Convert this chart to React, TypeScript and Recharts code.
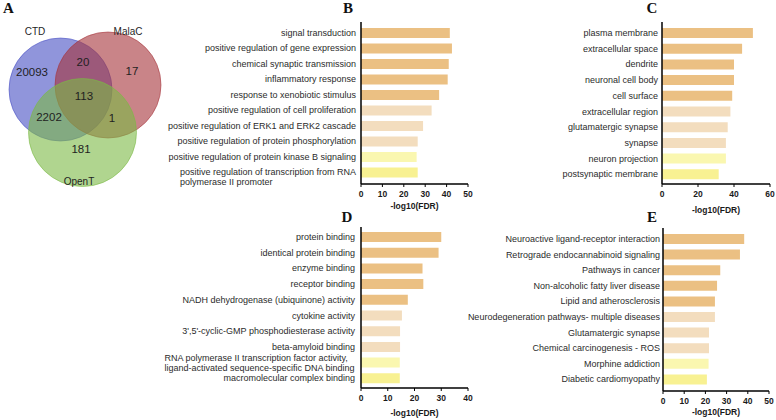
import { BarChart, Bar, XAxis, YAxis, Cell, ScatterChart, Scatter } from "recharts";

const FONT = '"Liberation Sans", Arial, sans-serif';

// Venn counts (CTD / MalaC / OpenT)
const vennSets = ["CTD", "MalaC", "OpenT"];
const vennCounts = ["20093", "20", "17", "113", "2202", "1", "181"];

// Panel B - biological process
const bpTerms = [
  "signal transduction",
  "positive regulation of gene expression",
  "chemical synaptic transmission",
  "inflammatory response",
  "response to xenobiotic stimulus",
  "positive regulation of cell proliferation",
  "positive regulation of ERK1 and ERK2 cascade",
  "positive regulation of protein phosphorylation",
  "positive regulation of protein kinase B signaling",
  "positive regulation of transcription from RNA\npolymerase II promoter",
];
const bpValues = [41.5, 42.5, 41, 40.5, 36.5, 33, 29, 26.5, 26, 26.5];
const bpTicks = [0, 10, 20, 30, 40, 50];

// Panel C - cellular component
const ccTerms = [
  "plasma membrane",
  "extracellular space",
  "dendrite",
  "neuronal cell body",
  "cell surface",
  "extracellular region",
  "glutamatergic synapse",
  "synapse",
  "neuron projection",
  "postsynaptic membrane",
];
const ccValues = [50.5, 44.5, 40, 40, 39, 38, 36.5, 35.5, 35.5, 31.5];
const ccTicks = [0, 20, 40, 60];

// Panel D - molecular function
const mfTerms = [
  "protein binding",
  "identical protein binding",
  "enzyme binding",
  "receptor binding",
  "NADH dehydrogenase (ubiquinone) activity",
  "cytokine activity",
  "3',5'-cyclic-GMP phosphodiesterase activity",
  "beta-amyloid binding",
  "RNA polymerase II transcription factor activity,\nligand-activated sequence-specific DNA binding",
  "macromolecular complex binding",
];
const mfValues = [30, 29, 23, 23.3, 17.5, 15.3, 14.6, 14.6, 14.5, 14.5];
const mfTicks = [0, 10, 20, 30, 40];

// Panel E - KEGG
const keggTerms = [
  "Neuroactive ligand-receptor interaction",
  "Retrograde endocannabinoid signaling",
  "Pathways in cancer",
  "Non-alcoholic fatty liver disease",
  "Lipid and atherosclerosis",
  "Neurodegeneration pathways- multiple diseases",
  "Glutamatergic synapse",
  "Chemical carcinogenesis - ROS",
  "Morphine addiction",
  "Diabetic cardiomyopathy",
];
const keggValues = [38.3, 36.3, 27, 25.5, 24.5, 24.5, 21.7, 21.7, 21.5, 20.7];
const keggTicks = [0, 10, 20, 30, 40, 50];

const barColors = [
  "#EBC083", "#EBC083", "#EBC083", "#EBC083", "#EBC083",
  "#F3DDBE", "#F3DDBE", "#F3DDBE",
  "#FAF7B0", "#F8F192",
];

// venn layout in chart units (1 unit = 1px)
const vennCircles = [
  { x: 60.5, y: 89.5, r: 51.5, fill: "rgb(70,78,195)" },
  { x: 108, y: 85, r: 53, fill: "rgb(165,50,57)" },
  { x: 82.5, y: 132.5, r: 54, fill: "rgb(123,185,68)" },
];
const vennSetSpots = [
  { x: 35, y: 31 },
  { x: 128, y: 31 },
  { x: 79, y: 181 },
];
const vennCountSpots = [
  { x: 32, y: 72 },
  { x: 83, y: 62 },
  { x: 132, y: 71 },
  { x: 84, y: 96 },
  { x: 49, y: 117 },
  { x: 112, y: 118 },
  { x: 81, y: 149 },
];

let measureCtx: CanvasRenderingContext2D | null = null;
function textWidth(s: string, font: string) {
  if (!measureCtx) measureCtx = document.createElement("canvas").getContext("2d");
  if (!measureCtx) return s.length * 4.5;
  measureCtx.font = font;
  return measureCtx.measureText(s).width;
}

function TermTick(props: any) {
  const { x, y, payload, multiAlign } = props;
  const lines = String(payload.value).split("\n");
  const common = { fontSize: 9, fontFamily: FONT, fill: "#2b2b2b" };
  if (lines.length === 1) {
    return (
      <text x={x} y={y} dy="0.35em" textAnchor="end" {...common}>
        {lines[0]}
      </text>
    );
  }
  const w = Math.max(...lines.map((l) => textWidth(l, `9px ${FONT}`)));
  const y0 = multiAlign === "center" ? y - ((lines.length - 1) * 10) / 2 : y;
  return (
    <text x={x - w} y={y0} textAnchor="start" {...common}>
      {lines.map((l, i) => (
        <tspan key={i} x={x - w} dy={i === 0 ? "0.35em" : 10}>
          {l}
        </tspan>
      ))}
    </text>
  );
}

function GoPanel(props: any) {
  const { terms, values, ticks, left, top, width, height, yWidth, right, gap, padTop, padBottom, titleOffset, multiAlign } = props;
  const data = terms.map((term: string, i: number) => ({ term, value: values[i] }));
  return (
    <div style={{ position: "absolute", left, top }}>
      <BarChart
        width={width}
        height={height}
        data={data}
        layout="vertical"
        margin={{ top: 22, right, left: 0, bottom: 0 }}
      >
        <XAxis
          type="number"
          domain={[0, ticks[ticks.length - 1]]}
          ticks={ticks}
          interval={0}
          height={34}
          tickSize={3}
          tickMargin={4}
          axisLine={{ stroke: "#000", strokeWidth: 1.5 }}
          tickLine={{ stroke: "#000", strokeWidth: 1 }}
          tick={{ fontSize: 8.5, fontWeight: 700, fontFamily: FONT, fill: "#1a1a1a" }}
          label={{
            value: "-log10(FDR)",
            position: "insideBottom",
            offset: titleOffset,
            style: { fontSize: 8.5, fontWeight: 700, fontFamily: FONT, fill: "#1a1a1a" },
          }}
        />
        <YAxis
          type="category"
          dataKey="term"
          width={yWidth}
          interval={0}
          tickSize={0}
          tickMargin={gap}
          padding={{ top: padTop, bottom: padBottom }}
          axisLine={{ stroke: "#000", strokeWidth: 1.5 }}
          tickLine={false}
          tick={<TermTick multiAlign={multiAlign} />}
        />
        <Bar dataKey="value" barSize={10} isAnimationActive={false}>
          {data.map((_: any, i: number) => (
            <Cell key={i} fill={barColors[i]} />
          ))}
        </Bar>
      </BarChart>
    </div>
  );
}

function VennPanel() {
  const circles = vennCircles;
  const sets = vennSets.map((name, i) => ({ ...vennSetSpots[i], text: name }));
  const counts = vennCounts.map((n, i) => ({ ...vennCountSpots[i], text: n }));
  const circleShape = (p: any) => (
    <circle
      cx={p.cx}
      cy={p.cy}
      r={p.payload.r}
      fill={p.payload.fill}
      fillOpacity={0.6}
      stroke={p.payload.fill}
      strokeOpacity={0.7}
      strokeWidth={0.8}
    />
  );
  const textShape = (size: number) => (p: any) => (
    <text x={p.cx} y={p.cy} dy="0.35em" textAnchor="middle" fontSize={size} fontFamily={FONT} fill="#1f1f1f">
      {p.payload.text}
    </text>
  );
  return (
    <div style={{ position: "absolute", left: 0, top: 0 }}>
      <ScatterChart width={170} height={200} margin={{ top: 0, right: 0, bottom: 0, left: 0 }}>
        <XAxis type="number" dataKey="x" domain={[0, 170]} hide />
        <YAxis type="number" dataKey="y" domain={[0, 200]} reversed hide />
        <Scatter data={circles} shape={circleShape} isAnimationActive={false} />
        <Scatter data={sets} shape={textShape(10)} isAnimationActive={false} />
        <Scatter data={counts} shape={textShape(11.5)} isAnimationActive={false} />
      </ScatterChart>
    </div>
  );
}

export default function App() {
  const letter = { fontFamily: '"Liberation Serif", "Times New Roman", serif', fontSize: 15, fontWeight: 700, fill: "#111" };
  return (
    <div style={{ position: "absolute", left: 0, top: 0, width: 776, height: 420, background: "#fff", overflow: "hidden" }}>
      <VennPanel />
      <GoPanel
        terms={bpTerms} values={bpValues} ticks={bpTicks}
        left={150} top={0} width={330} height={218} yWidth={211} right={12}
        gap={5} padTop={3} padBottom={4} titleOffset={9} multiAlign="top"
      />
      <GoPanel
        terms={ccTerms} values={ccValues} ticks={ccTicks}
        left={540} top={0} width={236} height={218} yWidth={122} right={6}
        gap={4} padTop={3} padBottom={2} titleOffset={5} multiAlign="center"
      />
      <GoPanel
        terms={mfTerms} values={mfValues} ticks={mfTicks}
        left={150} top={205} width={330} height={217} yWidth={211} right={12}
        gap={6} padTop={2} padBottom={2} titleOffset={6} multiAlign="center"
      />
      <GoPanel
        terms={keggTerms} values={keggValues} ticks={keggTicks}
        left={440} top={206} width={336} height={219} yWidth={223} right={7}
        gap={3} padTop={3} padBottom={4} titleOffset={10} multiAlign="center"
      />
      <svg width={776} height={420} style={{ position: "absolute", left: 0, top: 0, pointerEvents: "none" }}>
        <text x={3} y={13} {...letter}>A</text>
        <text x={348} y={13} textAnchor="middle" {...letter}>B</text>
        <text x={652} y={13} textAnchor="middle" {...letter}>C</text>
        <text x={347} y={222} textAnchor="middle" {...letter}>D</text>
        <text x={652} y={222} textAnchor="middle" {...letter}>E</text>
      </svg>
    </div>
  );
}
